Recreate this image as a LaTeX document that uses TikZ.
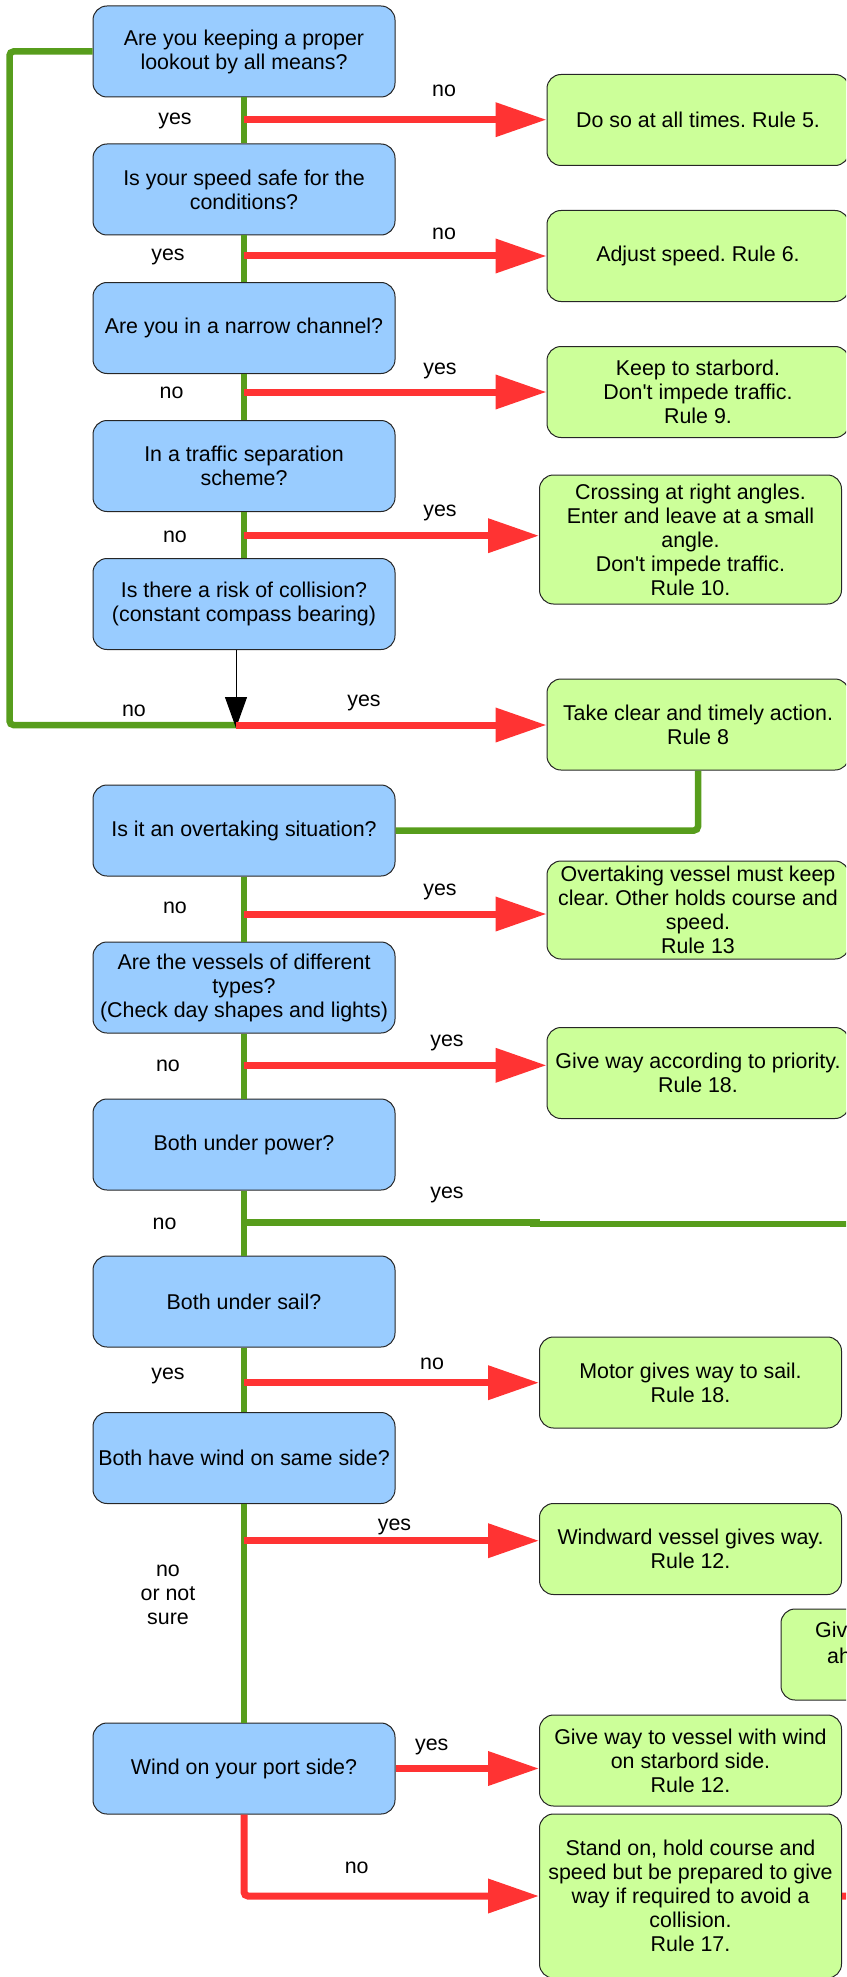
\documentclass[tikz,border=0pt]{standalone}
\usepackage{fontspec}
\setmainfont{Liberation Sans}
\font\lsfq="Liberation Sans" at 21.4pt
\newcommand{\apo}{{\lsfq'}}
\usetikzlibrary{arrows.meta}
\definecolor{qblue}{HTML}{99CCFF}
\definecolor{agreen}{HTML}{CCFF99}
\definecolor{lgreen}{HTML}{579D1C}
\definecolor{lred}{HTML}{FF3333}
\begin{document}
\begin{tikzpicture}[x=1pt,y=-1pt,
 every node/.style={font=\fontsize{21.4pt}{24pt}\selectfont\frenchspacing},
 qbox/.style={draw=black!85, line width=1pt, fill=qblue, rounded corners=14pt, minimum width=302pt, minimum height=91pt, align=center, inner sep=2pt},
 abox/.style={qbox, fill=agreen},
 gline/.style={draw=lgreen, line width=6.5pt},
 rarrow/.style={draw=lred, line width=7pt, -{Triangle[length=51pt,width=33pt]}},
 rline/.style={draw=lred, line width=7pt},
 lbl/.style={inner sep=0pt, align=center}]
\useasboundingbox (0,0) rectangle (846,1977);
\clip (0,0) rectangle (846,1977);

% question boxes
\node[qbox] (b1) at (244,51.5) {Are you keeping a proper\\lookout by all means?};
\node[qbox] (b2) at (244,189.5) {Is your speed safe for the\\conditions?};
\node[qbox] (b3) at (244,328) {Are you in a narrow channel?};
\node[qbox] (b4) at (244,466) {In a traffic separation\\scheme?};
\node[qbox] (b5) at (244,604) {Is there a risk of collision?\\(constant compass bearing)};
\node[qbox] (b6) at (244,830.5) {Is it an overtaking situation?};
\node[qbox] (b7) at (244,987.5) {Are the vessels of different\\types?\\(Check day shapes and lights)};
\node[qbox] (b8) at (244,1144.5) {Both under power?};
\node[qbox] (b9) at (244,1301.5) {Both under sail?};
\node[qbox] (b10) at (244,1458) {Both have wind on same side?};
\node[qbox] (b11) at (244,1768.5) {Wind on your port side?};

% answer boxes
\node[abox] (g1) at (698,120) {Do so at all times. Rule 5.};
\node[abox] (g2) at (698,256) {Adjust speed. Rule 6.};
\node[abox] (g3) at (698,392) {Keep to starbord.\\Don\apo t impede traffic.\\Rule 9.};
\node[abox, minimum height=129pt] (g4) at (690.5,539.5) {Crossing at right angles.\\Enter and leave at a small\\angle.\\Don\apo t impede traffic.\\Rule 10.};
\node[abox] (g5) at (698,724.5) {Take clear and timely action.\\Rule 8};
\node[abox, minimum height=98pt] (g6) at (698,910) {Overtaking vessel must keep\\clear. Other holds course and\\speed.\\Rule 13};
\node[abox] (g7) at (698,1073) {Give way according to priority.\\Rule 18.};
\node[abox] (g9) at (690.5,1382.5) {Motor gives way to sail.\\Rule 18.};
\node[abox] (g10) at (690.5,1549) {Windward vessel gives way.\\Rule 12.};
\node[abox] (gp) at (932,1654.5) {};
\node[lbl, anchor=west] (gpt1) at (815,1630) {Giv};
\node[lbl, anchor=west] (gpt2) at (827,1656) {ah};
\node[abox] (g11) at (690.5,1760.5) {Give way to vessel with wind\\on starbord side.\\Rule 12.};
\node[abox, minimum height=164pt] (g12) at (690.5,1896) {Stand on, hold course and\\speed but be prepared to give\\way if required to avoid a\\collision.\\Rule 17.};

% junction coordinates
\coordinate (j1) at (244,119.7);
\coordinate (j2) at (244,256);
\coordinate (j3) at (244,392);
\coordinate (j4) at (244,535.7);
\coordinate (j5) at (236,725);
\coordinate (j6) at (244,914);
\coordinate (j7) at (244,1065.3);
\coordinate (j8) at (244,1222.5);
\coordinate (m8) at (540,1222.5);
\coordinate (m8b) at (530,1224);
\coordinate (e8) at (880,1224);
\coordinate (j9) at (244,1382.7);
\coordinate (j10) at (244,1540.7);
\coordinate (lc) at (9.5,725);
\coordinate (e12) at (880,1897);

% green main line
\draw[gline] (b1.south) -- (b2.north);
\draw[gline] (b2.south) -- (b3.north);
\draw[gline] (b3.south) -- (b4.north);
\draw[gline] (b4.south) -- (b5.north);
\draw[gline] (b6.south) -- (b7.north);
\draw[gline] (b7.south) -- (b8.north);
\draw[gline] (b8.south) -- (b9.north);
\draw[gline] (b9.south) -- (b10.north);
\draw[gline] (b10.south) -- (b11.north);
\draw[gline] (j8) -- (m8);
\draw[gline] (m8b) -- (e8);
\draw[gline, rounded corners=4pt] (b1.west) -| (lc) -- (j5);
\draw[gline, rounded corners=4pt] (g5.south) |- (b6.east);

% black arrow
\draw[black, line width=1pt, -{Triangle[length=31pt,width=22pt]}] (b5.south -| j5) -- ([yshift=-3pt]j5);

% red arrows
\draw[rarrow] (j1) -- (j1 -| g1.west);
\draw[rarrow] (j2) -- (j2 -| g2.west);
\draw[rarrow] (j3) -- (j3 -| g3.west);
\draw[rarrow] (j4) -- (j4 -| g4.west);
\draw[rarrow] (j5) -- (j5 -| g5.west);
\draw[rarrow] (j6) -- (j6 -| g6.west);
\draw[rarrow] (j7) -- (j7 -| g7.west);
\draw[rarrow] (j9) -- (j9 -| g9.west);
\draw[rarrow] (j10) -- (j10 -| g10.west);
\draw[rarrow] (b11.east) -- (b11.east -| g11.west);
\draw[rarrow, rounded corners=4pt] (b11.south) |- (g12.west);
\draw[rline] (g12.east) -- (e12);

% labels
\node[lbl] (l1n) at (444,90.7) {no};
\node[lbl] (l1y) at (175,120.7) {yes};
\node[lbl] (l2n) at (444,234) {no};
\node[lbl] (l2y) at (168,256.7) {yes};
\node[lbl] (l3y) at (440,370.7) {yes};
\node[lbl] (l3n) at (171.6,393.3) {no};
\node[lbl] (l4y) at (440,513.3) {yes};
\node[lbl] (l4n) at (175,536.7) {no};
\node[lbl] (l5n) at (134,710.7) {no};
\node[lbl] (l5y) at (364,703.3) {yes};
\node[lbl] (l6y) at (440,891.7) {yes};
\node[lbl] (l6n) at (175,907.7) {no};
\node[lbl] (l7y) at (447,1043.3) {yes};
\node[lbl] (l7n) at (168,1066) {no};
\node[lbl] (l8y) at (447,1195) {yes};
\node[lbl] (l8n) at (164.6,1224.3) {no};
\node[lbl] (l9n) at (432,1364.3) {no};
\node[lbl] (l9y) at (168,1375.7) {yes};
\node[lbl] (l10y) at (394.5,1527.3) {yes};
\node[lbl] (l10n) at (168,1595) {no\\or not\\sure};
\node[lbl] (l11y) at (431.7,1746.7) {yes};
\node[lbl] (l11n) at (356.7,1867.7) {no};
\end{tikzpicture}
\end{document}
